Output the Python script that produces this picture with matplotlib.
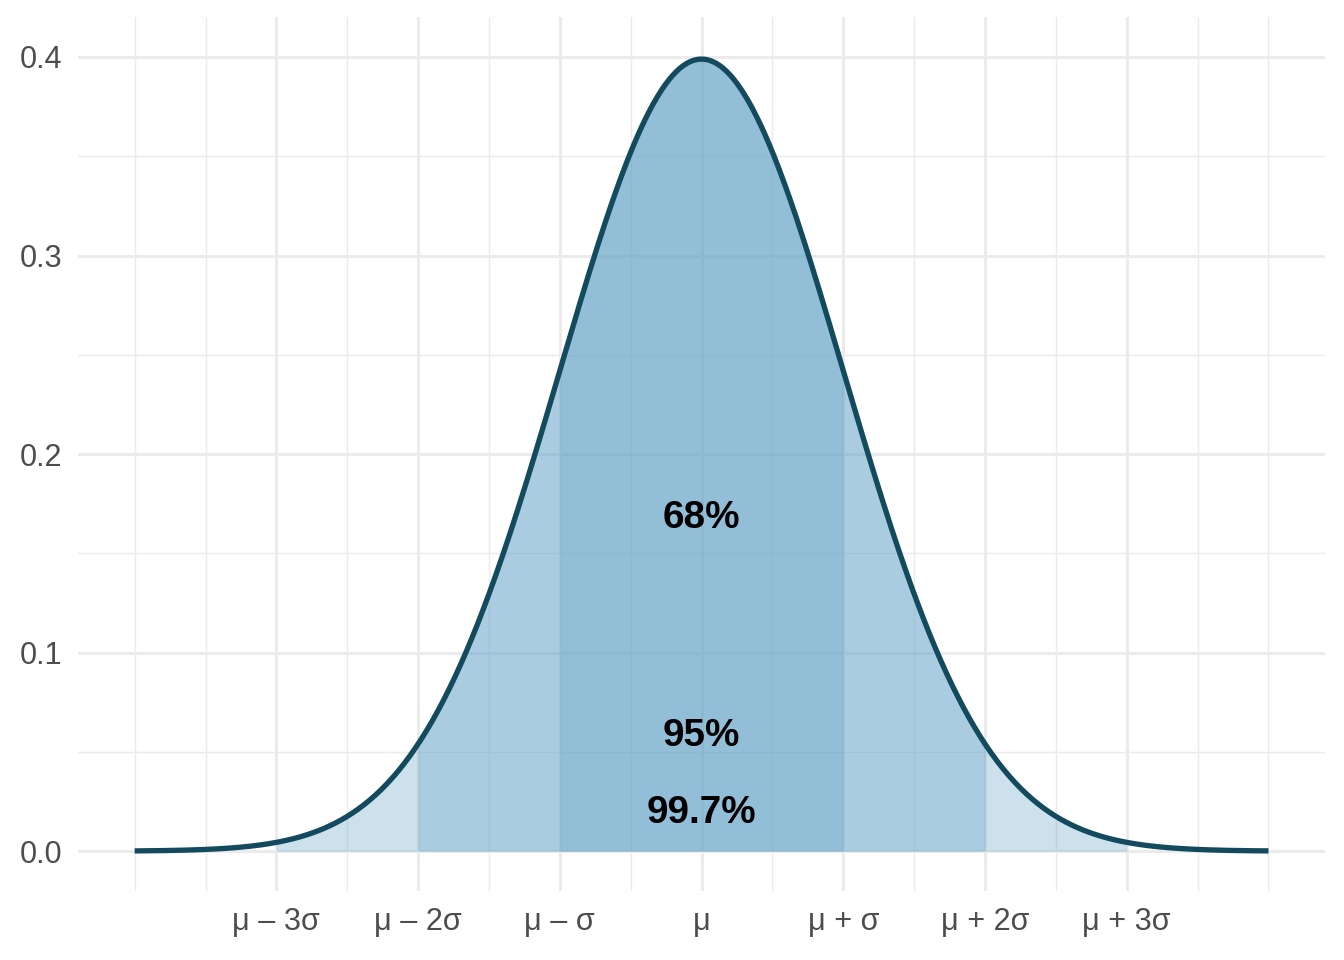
import numpy as np
import matplotlib
matplotlib.use("Agg")
import matplotlib.pyplot as plt
from matplotlib.ticker import FixedLocator

# ---- data ----
mu = 0.0
sigma = 1.0
x_range = [-4, 4]
band_sigmas = [3, 2, 1]                # shaded regions (outer to inner)
tick_positions = [-3, -2, -1, 0, 1, 2, 3]
tick_labels = ["μ – 3σ", "μ – 2σ", "μ – σ", "μ", "μ + σ", "μ + 2σ", "μ + 3σ"]
annot_text = ["68%", "95%", "99.7%"]
annot_y = [0.168, 0.058, 0.019]
y_ticks = [0.0, 0.1, 0.2, 0.3, 0.4]

plt.rcParams['font.family'] = ['Liberation Sans', 'DejaVu Sans']

xs = np.linspace(x_range[0], x_range[1], 801)
dens = np.exp(-0.5 * ((xs - mu) / sigma) ** 2) / (sigma * np.sqrt(2 * np.pi))

fig = plt.figure(figsize=(7, 5), dpi=192)
ax = fig.add_axes([0.058, 0.072, 0.928, 0.910])

fill_color = "#66a4c8"
for k in band_sigmas:
    m = (xs >= mu - k * sigma - 1e-9) & (xs <= mu + k * sigma + 1e-9)
    ax.fill_between(xs[m], 0, dens[m], color=fill_color, alpha=0.33,
                    linewidth=0, zorder=2)

ax.plot(xs, dens, color="#134a5e", linewidth=2.0, zorder=3,
        solid_capstyle="butt")

for t, yv in zip(annot_text, annot_y):
    ax.text(mu, yv, t, ha="center", va="center", fontsize=14.5,
            fontweight="bold", color="black", zorder=4)

span = x_range[1] - x_range[0]
ax.set_xlim(x_range[0] - 0.05 * span, x_range[1] + 0.05 * span)
ax.set_ylim(-0.02, 0.42)

ax.xaxis.set_major_locator(FixedLocator(tick_positions))
ax.set_xticklabels(tick_labels)
ax.xaxis.set_minor_locator(FixedLocator(np.arange(-4, 4.01, 0.5)))
ax.yaxis.set_major_locator(FixedLocator(y_ticks))
ax.set_yticklabels([f"{v:.1f}" for v in y_ticks])
ax.yaxis.set_minor_locator(FixedLocator(np.arange(0.05, 0.4, 0.1)))

ax.grid(which="major", color="#ebebeb", linewidth=1.1, zorder=0)
ax.grid(which="minor", color="#ebebeb", linewidth=0.55, zorder=0)
ax.set_axisbelow(True)
for s in ax.spines.values():
    s.set_visible(False)
ax.tick_params(which="both", length=0)
ax.tick_params(axis="x", labelsize=11.5, labelcolor="#4d4d4d", pad=6)
ax.tick_params(axis="y", labelsize=11.5, labelcolor="#4d4d4d", pad=6)

fig.savefig("out.png", dpi=192, facecolor="white")
